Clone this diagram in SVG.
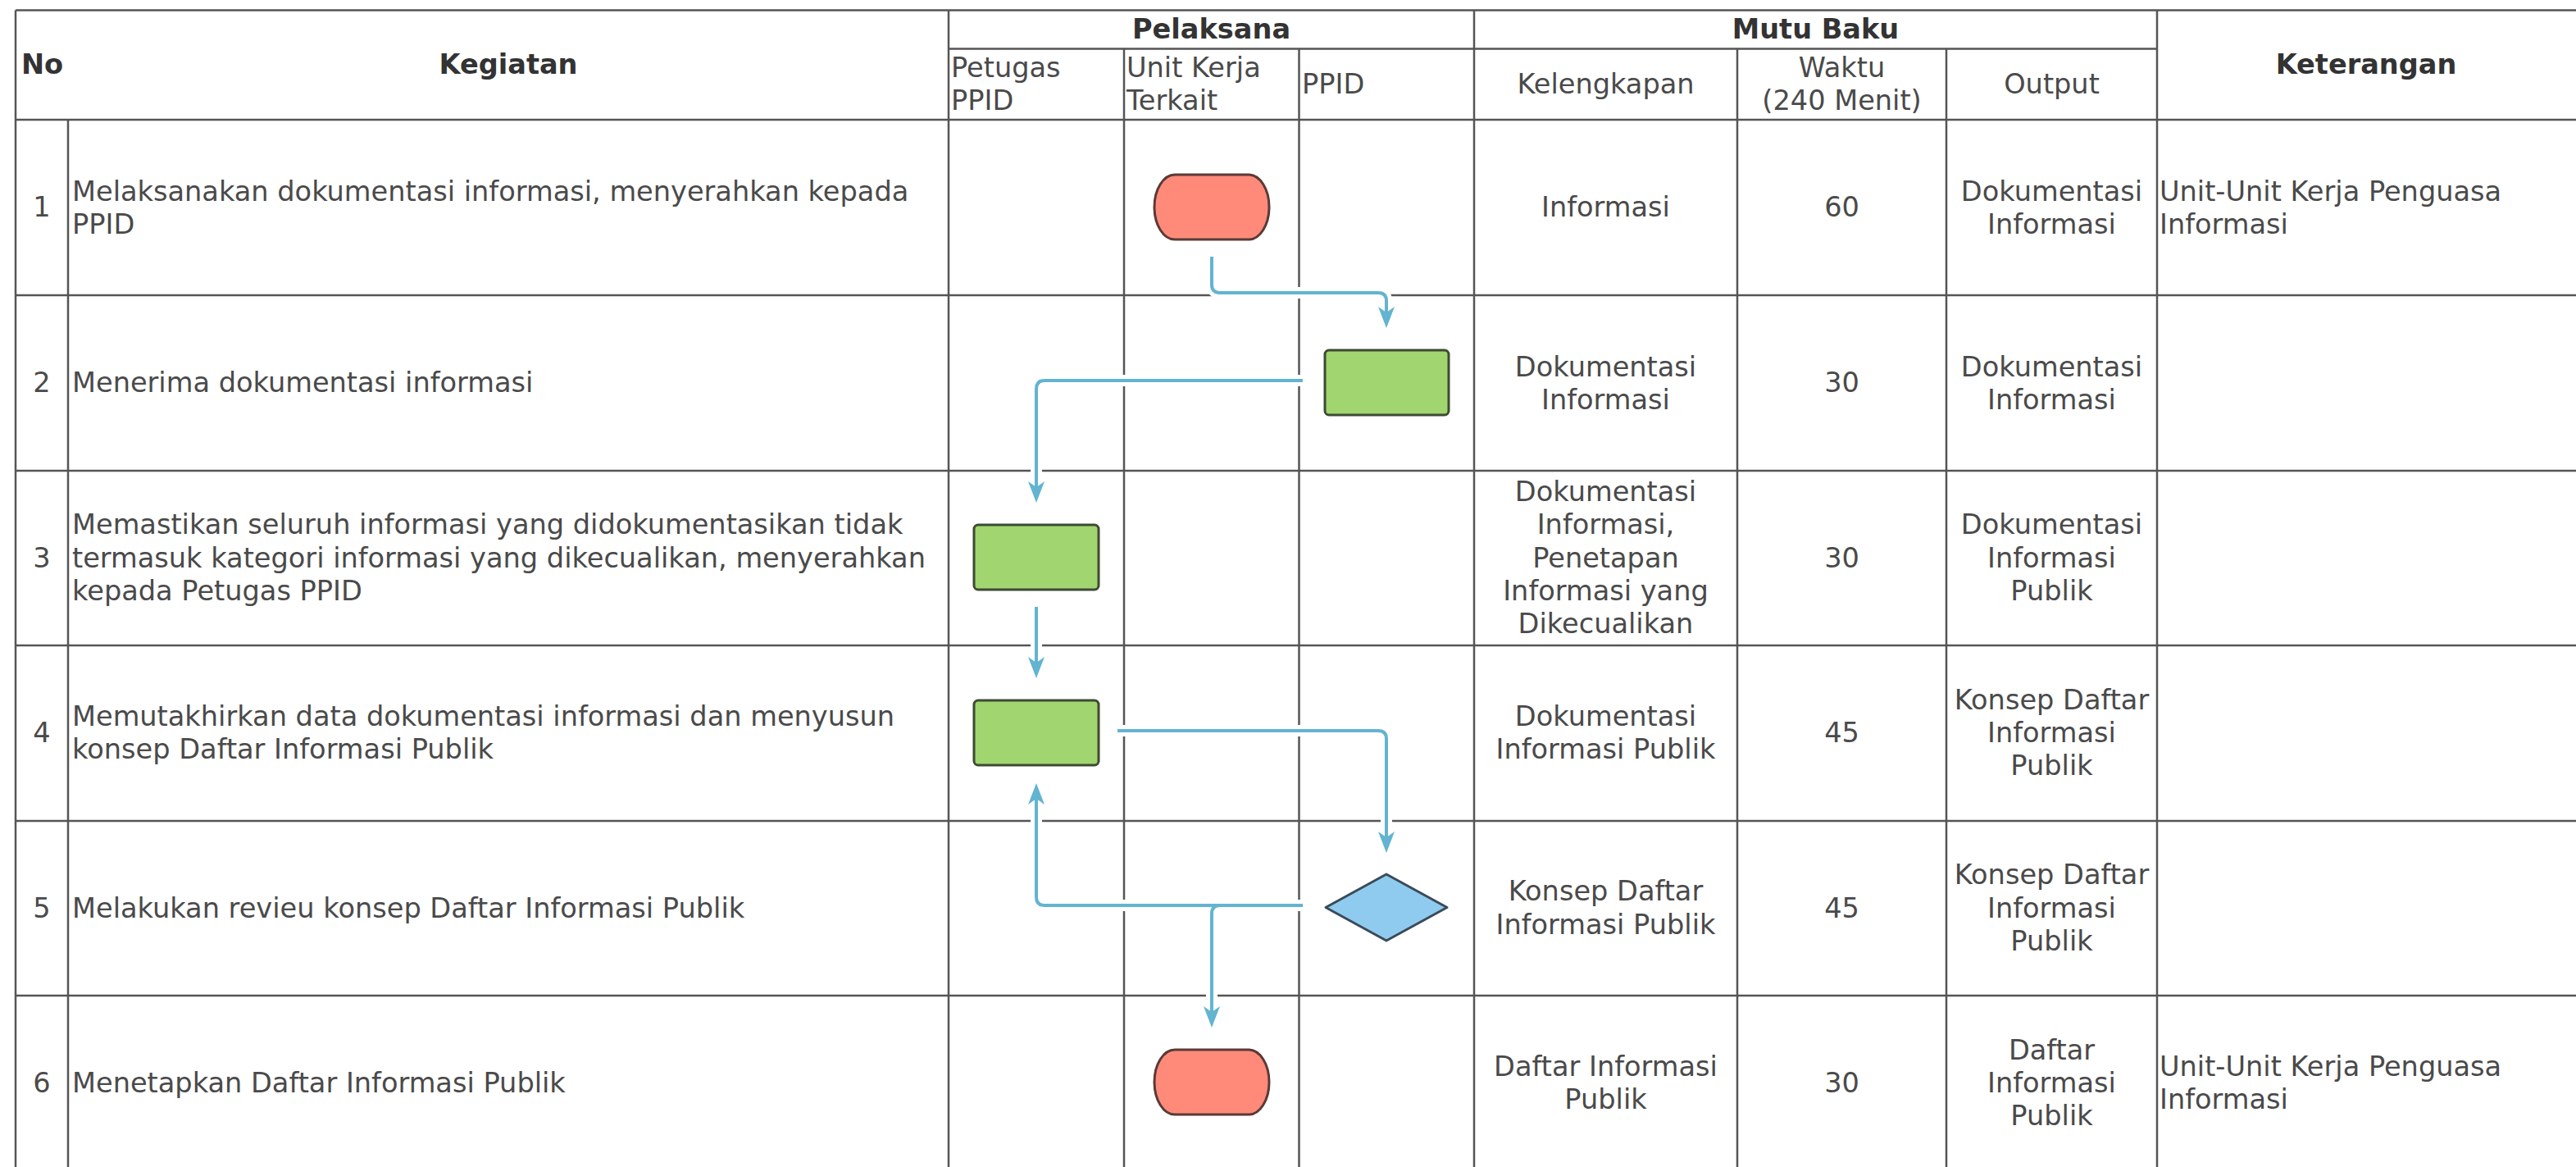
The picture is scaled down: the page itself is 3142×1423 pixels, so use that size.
<svg xmlns="http://www.w3.org/2000/svg" width="3142" height="1423" viewBox="0 0 3142 1423">
<style>
text{font-family:"DejaVu Sans","Liberation Sans",sans-serif;font-size:33.6px;fill:#4a4a4a}
.b{font-weight:bold;fill:#333}
.c{text-anchor:middle}
.g line{stroke:#555;stroke-width:2.5}
.term{fill:#FF8A7A;stroke:#5A3A36;stroke-width:3}
.proc{fill:#A0D56F;stroke:#3E4A33;stroke-width:3}
.dec{fill:#8FCBEE;stroke:#3A4A58;stroke-width:3;stroke-linejoin:round}
.halo{fill:none;stroke:#fff;stroke-width:14;stroke-linecap:square}
.edge{fill:none;stroke:#63B4D0;stroke-width:4;marker-end:url(#arr)}
</style>
<defs>
<marker id="arr" viewBox="0 0 26 22" markerWidth="26" markerHeight="22" markerUnits="userSpaceOnUse" refX="16" refY="11" orient="auto">
<path d="M0,1 L26,11 L0,21 L7,11 z" fill="#63B4D0"/>
</marker>
</defs>
<rect width="3142" height="1423" fill="#fff"/>
<g id="table" class="g">
<line x1="19" y1="12.5" x2="3142" y2="12.5"/>
<line x1="1157" y1="59.5" x2="2631" y2="59.5"/>
<line x1="19" y1="146" x2="3142" y2="146"/>
<line x1="19" y1="360" x2="3142" y2="360"/>
<line x1="19" y1="574" x2="3142" y2="574"/>
<line x1="19" y1="787" x2="3142" y2="787"/>
<line x1="19" y1="1001" x2="3142" y2="1001"/>
<line x1="19" y1="1214" x2="3142" y2="1214"/>
<line x1="19" y1="12.5" x2="19" y2="1423"/>
<line x1="83" y1="146" x2="83" y2="1423"/>
<line x1="1157" y1="12.5" x2="1157" y2="1423"/>
<line x1="1371" y1="59.5" x2="1371" y2="1423"/>
<line x1="1584.5" y1="59.5" x2="1584.5" y2="1423"/>
<line x1="1798" y1="12.5" x2="1798" y2="1423"/>
<line x1="2119" y1="59.5" x2="2119" y2="1423"/>
<line x1="2374" y1="59.5" x2="2374" y2="1423"/>
<line x1="2631" y1="12.5" x2="2631" y2="1423"/>
</g>
<g id="header">
<text class="b" x="26" y="90">No</text>
<text class="b c" x="620" y="90">Kegiatan</text>
<text class="b c" x="1477.5" y="47">Pelaksana</text>
<text class="b c" x="2214.5" y="47">Mutu Baku</text>
<text class="b c" x="2886" y="90">Keterangan</text>
<text x="1160" y="94">Petugas</text><text x="1160" y="134">PPID</text>
<text x="1374" y="94">Unit Kerja</text><text x="1374" y="134">Terkait</text>
<text x="1588" y="114">PPID</text>
<text class="c" x="1958.5" y="114">Kelengkapan</text>
<text class="c" x="2246.5" y="94">Waktu</text><text class="c" x="2246.5" y="134">(240 Menit)</text>
<text class="c" x="2502.5" y="114">Output</text>
</g>
<g id="rows">
<text class="c" x="51" y="264">1</text>
<text x="88" y="245">Melaksanakan dokumentasi informasi, menyerahkan kepada</text>
<text x="88" y="285">PPID</text>
<text class="c" x="1958.5" y="264">Informasi</text>
<text class="c" x="2246.5" y="264">60</text>
<text class="c" x="2502.5" y="245">Dokumentasi</text><text class="c" x="2502.5" y="285">Informasi</text>
<text x="2634" y="245">Unit-Unit Kerja Penguasa</text><text x="2634" y="285">Informasi</text>

<text class="c" x="51" y="478">2</text>
<text x="88" y="478">Menerima dokumentasi informasi</text>
<text class="c" x="1958.5" y="459">Dokumentasi</text><text class="c" x="1958.5" y="499">Informasi</text>
<text class="c" x="2246.5" y="478">30</text>
<text class="c" x="2502.5" y="459">Dokumentasi</text><text class="c" x="2502.5" y="499">Informasi</text>

<text class="c" x="51" y="692">3</text>
<text x="88" y="651">Memastikan seluruh informasi yang didokumentasikan tidak</text>
<text x="88" y="692">termasuk kategori informasi yang dikecualikan, menyerahkan</text>
<text x="88" y="732">kepada Petugas PPID</text>
<text class="c" x="1958.5" y="611">Dokumentasi</text>
<text class="c" x="1958.5" y="651">Informasi,</text>
<text class="c" x="1958.5" y="692">Penetapan</text>
<text class="c" x="1958.5" y="732">Informasi yang</text>
<text class="c" x="1958.5" y="772">Dikecualikan</text>
<text class="c" x="2246.5" y="692">30</text>
<text class="c" x="2502.5" y="651">Dokumentasi</text><text class="c" x="2502.5" y="692">Informasi</text><text class="c" x="2502.5" y="732">Publik</text>

<text class="c" x="51" y="905">4</text>
<text x="88" y="885">Memutakhirkan data dokumentasi informasi dan menyusun</text>
<text x="88" y="925">konsep Daftar Informasi Publik</text>
<text class="c" x="1958.5" y="885">Dokumentasi</text><text class="c" x="1958.5" y="925">Informasi Publik</text>
<text class="c" x="2246.5" y="905">45</text>
<text class="c" x="2502.5" y="865">Konsep Daftar</text><text class="c" x="2502.5" y="905">Informasi</text><text class="c" x="2502.5" y="945">Publik</text>

<text class="c" x="51" y="1118.5">5</text>
<text x="88" y="1118.5">Melakukan revieu konsep Daftar Informasi Publik</text>
<text class="c" x="1958.5" y="1098">Konsep Daftar</text><text class="c" x="1958.5" y="1139">Informasi Publik</text>
<text class="c" x="2246.5" y="1118.5">45</text>
<text class="c" x="2502.5" y="1078">Konsep Daftar</text><text class="c" x="2502.5" y="1118.5">Informasi</text><text class="c" x="2502.5" y="1159">Publik</text>

<text class="c" x="51" y="1332">6</text>
<text x="88" y="1332">Menetapkan Daftar Informasi Publik</text>
<text class="c" x="1958.5" y="1312">Daftar Informasi</text><text class="c" x="1958.5" y="1352">Publik</text>
<text class="c" x="2246.5" y="1332">30</text>
<text class="c" x="2502.5" y="1292">Daftar</text><text class="c" x="2502.5" y="1332">Informasi</text><text class="c" x="2502.5" y="1372">Publik</text>
<text x="2634" y="1312">Unit-Unit Kerja Penguasa</text><text x="2634" y="1352">Informasi</text>
</g>
<g id="connectors">
<g id="halos">
<path class="halo" d="M1478,313 V347 Q1478,357 1488,357 H1681 Q1691,357 1691,367 V380"/>
<path class="halo" d="M1589,464 H1274 Q1264,464 1264,474 V595"/>
<path class="halo" d="M1264,740 V810"/>
<path class="halo" d="M1363,891 H1681 Q1691,891 1691,901 V1022"/>
<path class="halo" d="M1589,1104 H1274 Q1264,1104 1264,1094 V973"/>
<path class="halo" d="M1589,1104 H1488 Q1478,1104 1478,1114 V1235"/>
</g>
<path id="e1" class="edge" d="M1478,313 V347 Q1478,357 1488,357 H1681 Q1691,357 1691,367 V390"/>
<path id="e2" class="edge" d="M1589,464 H1274 Q1264,464 1264,474 V603"/>
<path id="e3" class="edge" d="M1264,740 V817"/>
<path id="e4" class="edge" d="M1363,891 H1681 Q1691,891 1691,901 V1030"/>
<path id="e5" class="edge" d="M1589,1104 H1274 Q1264,1104 1264,1094 V965"/>
<path id="e6" class="edge" d="M1589,1104 H1488 Q1478,1104 1478,1114 V1243"/>
</g>
<g id="n1"><rect class="term" x="1408" y="213" width="140" height="79" rx="25" ry="39.5"/></g>
<g id="n2"><rect class="proc" x="1616" y="427" width="151" height="79" rx="5"/></g>
<g id="n3"><rect class="proc" x="1188" y="640" width="152" height="79" rx="5"/></g>
<g id="n4"><rect class="proc" x="1188" y="854" width="152" height="79" rx="5"/></g>
<g id="n5"><polygon class="dec" points="1691,1066 1765,1106.5 1691,1147 1617,1106.5"/></g>
<g id="n6"><rect class="term" x="1408" y="1280" width="140" height="79" rx="25" ry="39.5"/></g>
</svg>
